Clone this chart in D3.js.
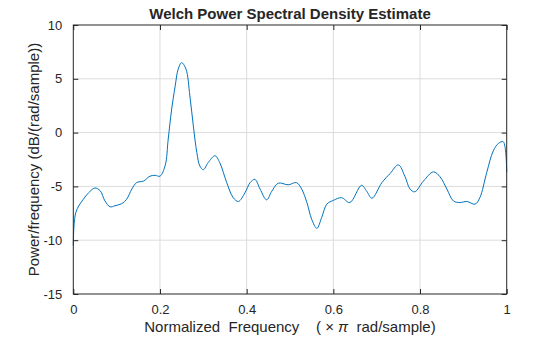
<!doctype html>
<html>
<head>
<meta charset="utf-8">
<title>Welch PSD</title>
<style>
  body { margin: 0; background: #fff; }
  text { font-family: "Liberation Sans", Arial, sans-serif; fill: #262626; }
</style>
</head>
<body>
<div id="here"></div>
<script src="https://d3js.org/d3.v7.min.js"></script>
<script>
  // tamaño de la ventana
  var w = 560, h = 337;
  var m = {top: 25, right: 53.3, bottom: 43, left: 73.3};

  // datos
  var freq = [0.000, 0.006, 0.023, 0.039, 0.050, 0.062, 0.073, 0.085, 0.096, 0.112,
              0.123, 0.135, 0.146, 0.162, 0.177, 0.189, 0.200, 0.212, 0.219, 0.227,
              0.235, 0.242, 0.250, 0.260, 0.269, 0.277, 0.285, 0.292, 0.300, 0.311,
              0.327, 0.338, 0.354, 0.369, 0.381, 0.396, 0.408, 0.419, 0.431, 0.446,
              0.458, 0.473, 0.496, 0.515, 0.527, 0.539, 0.550, 0.562, 0.573, 0.585,
              0.600, 0.619, 0.638, 0.665, 0.677, 0.689, 0.712, 0.731, 0.750, 0.765,
              0.777, 0.788, 0.808, 0.831, 0.846, 0.862, 0.877, 0.892, 0.908, 0.927,
              0.938, 0.954, 0.969, 0.981, 0.992, 1.000];
  var psd = [-10.5, -7.4, -6.2, -5.45, -5.15, -5.4, -6.35, -6.9, -6.8, -6.6,
             -6.2, -5.25, -4.65, -4.5, -4.05, -3.97, -4.05, -3.05, -0.6, 2.2,
             4.3, 5.9, 6.5, 5.9, 3.4, 0.6, -1.85, -3.1, -3.45, -2.8,
             -2.15, -2.8, -4.65, -6.05, -6.4, -5.6, -4.65, -4.35, -5.25, -6.25,
             -5.45, -4.7, -4.85, -4.65, -5.25, -6.5, -8.05, -8.9, -7.9, -6.65,
             -6.3, -6.05, -6.5, -4.9, -5.45, -6.1, -4.65, -3.8, -3.0, -4.05,
             -5.25, -5.5, -4.5, -3.65, -4.1, -5.25, -6.35, -6.5, -6.4, -6.65,
             -6.05, -3.7, -1.7, -1.0, -0.85, -3.7];
  var xTicks = [0, 0.2, 0.4, 0.6, 0.8, 1];
  var yTicks = [-15, -10, -5, 0, 5, 10];

  var data = freq.map(function(f, i) { return {f: f, p: psd[i]}; });

  var iw = w - m.left - m.right, ih = h - m.top - m.bottom;

  var svg = d3.select("#here").append("svg")
    .attr("width", w)
    .attr("height", h);

  var x = d3.scaleLinear().domain([0, 1]).range([m.left, m.left + iw]);
  var y = d3.scaleLinear().domain([-15, 10]).range([m.top + ih, m.top]);

  // rejilla
  svg.append("g").selectAll("line").data(xTicks.slice(1, -1)).enter().append("line")
    .attr("x1", function(d) { return x(d); }).attr("x2", function(d) { return x(d); })
    .attr("y1", m.top).attr("y2", m.top + ih)
    .attr("stroke", "#dcdcdc").attr("stroke-width", 1);
  svg.append("g").selectAll("line").data(yTicks.slice(1, -1)).enter().append("line")
    .attr("y1", function(d) { return y(d); }).attr("y2", function(d) { return y(d); })
    .attr("x1", m.left).attr("x2", m.left + iw)
    .attr("stroke", "#dcdcdc").attr("stroke-width", 1);

  // curva
  var line = d3.line()
    .x(function(d) { return x(d.f); })
    .y(function(d) { return y(d.p); })
    .curve(d3.curveCatmullRom.alpha(0.5));

  svg.append("path")
    .datum(data)
    .attr("d", line)
    .attr("fill", "none")
    .attr("stroke", "#0072BD")
    .attr("stroke-width", 1);

  // ejes con marcas hacia dentro (estilo matlab)
  var ax = function(g) { g.select(".domain").remove(); g.selectAll("text").style("font-size", "13px").attr("fill", "#262626"); g.selectAll("line").attr("stroke", "#262626"); };
  var fmt = function(d) { return String(d); };

  svg.append("g").attr("transform", "translate(0," + (m.top + ih) + ")")
    .call(d3.axisBottom(x).tickValues(xTicks).tickSizeInner(-5).tickPadding(11).tickFormat(fmt))
    .call(ax);
  svg.append("g").attr("transform", "translate(0," + m.top + ")")
    .call(d3.axisTop(x).tickValues(xTicks).tickSizeInner(-5).tickFormat(""))
    .call(ax);
  svg.append("g").attr("transform", "translate(" + m.left + ",0)")
    .call(d3.axisLeft(y).tickValues(yTicks).tickSizeInner(-5).tickPadding(11).tickFormat(fmt))
    .call(ax);
  svg.append("g").attr("transform", "translate(" + (m.left + iw) + ",0)")
    .call(d3.axisRight(y).tickValues(yTicks).tickSizeInner(-5).tickFormat(""))
    .call(ax);

  svg.append("rect")
    .attr("x", m.left).attr("y", m.top).attr("width", iw).attr("height", ih)
    .attr("fill", "none").attr("stroke", "#262626").attr("stroke-width", 1);

  // textos
  svg.append("text")
    .attr("x", x(0.5)).attr("y", 19)
    .attr("text-anchor", "middle")
    .style("font-size", "15px").style("font-weight", "bold")
    .text("Welch Power Spectral Density Estimate");

  var xl = svg.append("text")
    .attr("x", x(0.5)).attr("y", 332)
    .attr("text-anchor", "middle")
    .style("font-size", "15px")
    .style("white-space", "pre");
  xl.append("tspan").text("Normalized  Frequency    ( \u00d7 ");
  xl.append("tspan").style("font-style", "italic").text("\u03c0");
  xl.append("tspan").text("  rad/sample)");

  svg.append("text")
    .attr("transform", "translate(39," + y(-2.5) + ") rotate(-90)")
    .attr("text-anchor", "middle")
    .style("font-size", "15px")
    .text("Power/frequency (dB/(rad/sample))");
</script>
</body>
</html>
